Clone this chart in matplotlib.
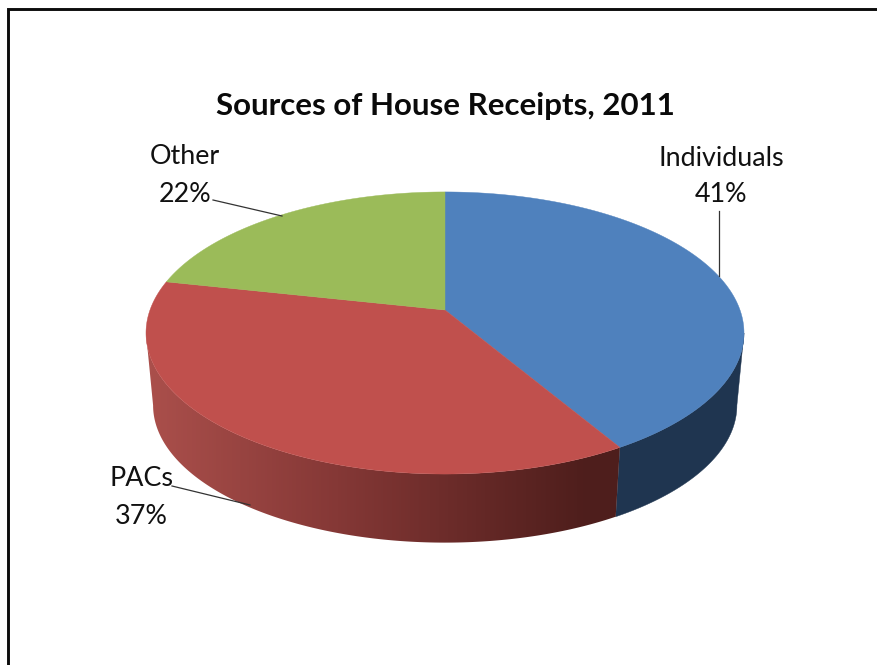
import numpy as np
import matplotlib
matplotlib.use("Agg")
import matplotlib.pyplot as plt
from matplotlib.colors import LinearSegmentedColormap
from matplotlib.patches import Polygon

title = "Sources of House Receipts, 2011"
categories = ["Individuals", "PACs", "Other"]
values = [41.49, 36.91, 21.6]
top_colors = ["#4F81BD", "#C0504D", "#9BBB59"]

plt.rcParams["font.family"] = ["Lato", "DejaVu Sans"]
fig = plt.figure(figsize=(8.78, 6.65), dpi=100, facecolor="white")
ax = fig.add_axes([0, 0, 1, 1])

# frame
ax.plot([8.5, 8.5, 878], [665, 8.5, 8.5], color="#0c0c0c", lw=2.1,
        solid_joinstyle="miter", zorder=1)

K = 0.163
CX = 445


def project(theta, level):
    """Perspective projection of a rim point; theta clockwise from 12 o'clock."""
    u, v = np.sin(theta), -np.cos(theta)
    if level == "top":
        a, b, y0 = 295.0, 137.3, 310.0
    else:
        a, b, y0 = 288.0, 133.6, 383.0
    d = 1 - K * v
    return CX + a * u / d, y0 + b * v / d


def wall(t0, t1):
    th = np.linspace(t0, t1, 300)
    xt, yt = project(th, "top")
    xb, yb = project(th, "bot")
    return np.c_[np.r_[xt, xb[::-1]], np.r_[yt, yb[::-1]]]


fractions = np.array(values) / sum(values)
edges = np.concatenate([[0], np.cumsum(fractions)]) * 2 * np.pi

# side wall
t_right = np.arccos(-K)
t_left = 2 * np.pi - t_right
side_red = LinearSegmentedColormap.from_list(
    "side", [(0, "#AA4F4B"), (0.40, "#853836"), (0.72, "#642826"), (0.94, "#4E1E1C"), (1, "#4E1E1C")])
side_blue = "#1F3550"

ax.add_patch(Polygon(wall(t_right, edges[1]), closed=True, fc=side_blue, ec=side_blue, lw=0.3, zorder=2))

red_wall = Polygon(wall(edges[1], t_left), closed=True, fc="none", ec="none", transform=ax.transData)
ax.add_patch(red_wall)
px = np.arange(130, 640)
shade = np.clip((px - 150) / 465, 0, 1)
img = ax.imshow(shade[None, :], cmap=side_red, vmin=0, vmax=1,
                extent=(130, 640, 560, 320), aspect="auto", zorder=2)
img.set_clip_path(red_wall)

# top faces
for i, col in enumerate(top_colors):
    th = np.linspace(edges[i], edges[i + 1], 300)
    xs, ys = project(th, "top")
    ax.fill(np.r_[CX, xs], np.r_[310.0, ys], color=col, lw=0.3, zorder=3)

ax.set_xlim(0, 878)
ax.set_ylim(665, 0)
ax.axis("off")

# leader lines
leaders = {"Individuals": ([719, 719], [211, 276]),
           "PACs": ([172, 250], [486, 505]),
           "Other": ([213, 282], [200, 216])}
for name in categories:
    ax.plot(*leaders[name], color="#333333", lw=0.9, zorder=4)

# labels
label_pos = {"Individuals": (721, 158, 721, 195),
             "PACs": (142, 479, 141, 516),
             "Other": (185, 157, 185, 194)}
for name, val in zip(categories, values):
    x1, y1, x2, y2 = label_pos[name]
    ax.text(x1, y1, name, ha="center", va="center", fontsize=19.4, color="#111111", zorder=5)
    ax.text(x2, y2, f"{round(val)}%", ha="center", va="center", fontsize=19.4, color="#111111", zorder=5)

ax.text(445, 106, title, ha="center", va="center", fontsize=22.5, fontweight="bold", color="#0a0a0a")

fig.savefig("out.png", dpi=100, facecolor="white")
